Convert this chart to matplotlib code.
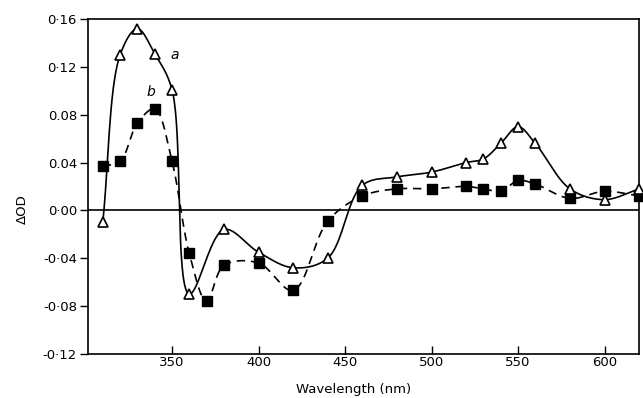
'''
Difference spectra (delta OD) against wavelength, curves a and b.
'''

import matplotlib
matplotlib.use('Agg')
import matplotlib.pyplot as plt
import numpy as np

# curve a (open triangles, solid line)
wl_a = [310, 320, 330, 340, 350, 360, 380, 400, 420, 440, 460, 480, 500,
        520, 530, 540, 550, 560, 580, 600, 620]
od_a = [-0.010, 0.130, 0.152, 0.131, 0.101, -0.070, -0.016, -0.035, -0.048,
        -0.040, 0.021, 0.028, 0.032, 0.040, 0.043, 0.056, 0.070, 0.056,
        0.018, 0.009, 0.018]

# curve b (filled squares, dashed line)
wl_b = [310, 320, 330, 340, 350, 360, 370, 380, 400, 420, 440, 460, 480, 500,
        520, 530, 540, 550, 560, 580, 600, 620]
od_b = [0.037, 0.041, 0.073, 0.085, 0.041, -0.036, -0.076, -0.046, -0.044,
        -0.067, -0.009, 0.012, 0.018, 0.018, 0.020, 0.018, 0.016, 0.025,
        0.022, 0.010, 0.016, 0.012]

ytick_vals = [-0.12, -0.08, -0.04, 0.00, 0.04, 0.08, 0.12, 0.16]
ytick_labels = ['-0·12', '-0·08', '-0·04', '0·00', '0.04', '0.08', '0·12', '0·16']
xtick_vals = [350, 400, 450, 500, 550, 600]


# centripetal Catmull-Rom through the points, worked out in display space so
# the curve looks hand drawn (steep drops stay steep)
def smooth_curve(ax, x, y, steps=40, alpha=0.5):
    pts = ax.transData.transform(np.column_stack([x, y]))
    pts = np.vstack([2 * pts[0] - pts[1], pts, 2 * pts[-1] - pts[-2]])
    out = []
    for i in range(1, len(pts) - 2):
        p0, p1, p2, p3 = pts[i - 1], pts[i], pts[i + 1], pts[i + 2]
        t0 = 0.0
        t1 = t0 + np.linalg.norm(p1 - p0) ** alpha
        t2 = t1 + np.linalg.norm(p2 - p1) ** alpha
        t3 = t2 + np.linalg.norm(p3 - p2) ** alpha
        t = np.linspace(t1, t2, steps)[:, None]
        a1 = (t1 - t) / (t1 - t0) * p0 + (t - t0) / (t1 - t0) * p1
        a2 = (t2 - t) / (t2 - t1) * p1 + (t - t1) / (t2 - t1) * p2
        a3 = (t3 - t) / (t3 - t2) * p2 + (t - t2) / (t3 - t2) * p3
        b1 = (t2 - t) / (t2 - t0) * a1 + (t - t0) / (t2 - t0) * a2
        b2 = (t3 - t) / (t3 - t1) * a2 + (t - t1) / (t3 - t1) * a3
        c = (t2 - t) / (t2 - t1) * b1 + (t - t1) / (t2 - t1) * b2
        out.append(c)
    out = ax.transData.inverted().transform(np.vstack(out))
    return out[:, 0], out[:, 1]


fig = plt.figure(figsize=(6.43, 3.98), dpi=100)
ax = fig.add_axes([0.137, 0.111, 0.857, 0.841])
ax.set_xlim(301.5, 620)
ax.set_ylim(-0.12, 0.16)

xa, ya = smooth_curve(ax, wl_a, od_a)
xb, yb = smooth_curve(ax, wl_b, od_b)
ax.plot(xa, ya, color='black', lw=1.2)
ax.plot(xb, yb, color='black', lw=1.2, ls=(0, (5, 3.5)))
ax.plot(wl_a, od_a, ls='none', marker='^', ms=7.5, mfc='white', mec='black',
        mew=1.2, clip_on=False, zorder=4)
ax.plot(wl_b, od_b, ls='none', marker='s', ms=6.5, mfc='black', mec='black',
        clip_on=False, zorder=3)

ax.axhline(0, color='black', lw=1.2)

ax.text(349, 0.127, 'a', style='italic', fontsize=10)
ax.text(335, 0.096, 'b', style='italic', fontsize=10)

ax.set_xticks(xtick_vals)
ax.set_yticks(ytick_vals)
ax.set_yticklabels(ytick_labels)
ax.tick_params(axis='x', direction='in', length=6, width=1, labelsize=9.5, pad=1.5)
ax.tick_params(axis='y', direction='out', length=6, width=1, labelsize=9.5, pad=2)
for s in ax.spines.values():
    s.set_linewidth(1.2)

ax.set_xlabel('Wavelength (nm)', fontsize=9.5)
ax.set_ylabel('ΔOD', fontsize=9.5)
ax.xaxis.set_label_coords(0.481, -0.088)
ax.yaxis.set_label_coords(-0.107, 0.433)

fig.savefig('out.png', dpi=100)
